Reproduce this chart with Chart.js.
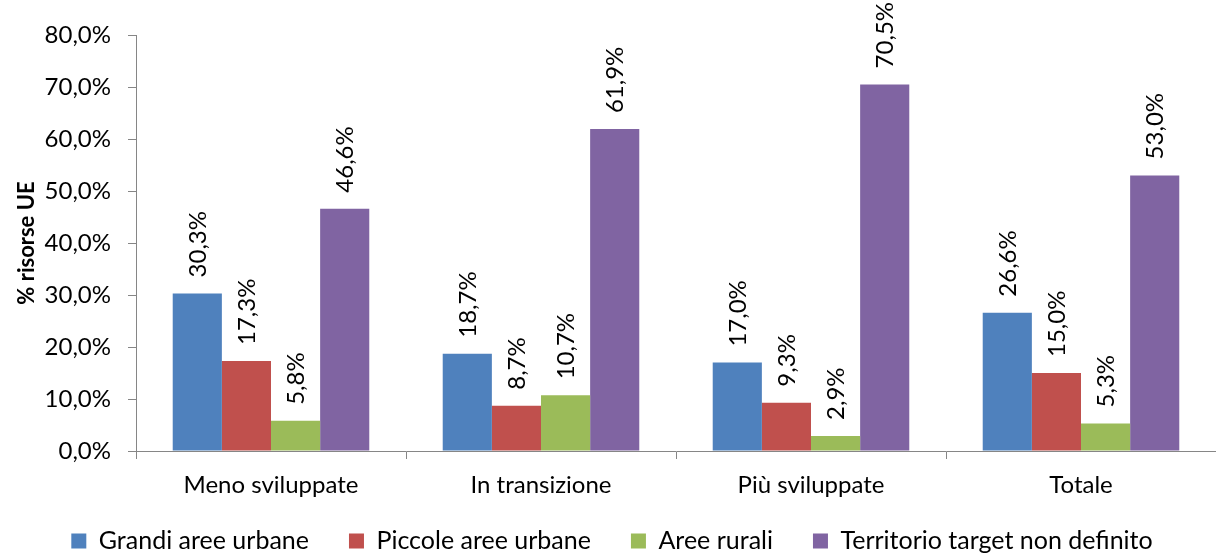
<!DOCTYPE html>
<html>
<head>
<meta charset="utf-8">
<script src="https://cdn.jsdelivr.net/npm/chart.js@4/dist/chart.umd.min.js"></script>
<style>
  html, body { margin: 0; padding: 0; background: #ffffff; }
  #c { display: block; }
</style>
</head>
<body>
<canvas id="c" width="1216" height="553"></canvas>
<script>
// Categorie di regioni
const categories = ['Meno sviluppate', 'In transizione', 'Più sviluppate', 'Totale'];

// Quote percentuali delle risorse UE per tipo di territorio
const grandiAreeUrbane = [30.3, 18.7, 17.0, 26.6];
const piccoleAreeUrbane = [17.3, 8.7, 9.3, 15.0];
const areeRurali = [5.8, 10.7, 2.9, 5.3];
const territorioNonDefinito = [46.6, 61.9, 70.5, 53.0];

const seriesNames = ['Grandi aree urbane', 'Piccole aree urbane', 'Aree rurali', 'Territorio target non definito'];
const seriesColors = ['#4F81BD', '#C0504D', '#9BBB59', '#8064A2'];
const seriesValues = [grandiAreeUrbane, piccoleAreeUrbane, areeRurali, territorioNonDefinito];

const FONT = 'Lato';
const fmtPct = v => v.toFixed(1).replace('.', ',') + '%';

// Etichette verticali con il valore sopra ogni barra
const valueLabels = {
  id: 'valueLabels',
  afterDatasetsDraw(chart) {
    const ctx = chart.ctx;
    ctx.save();
    ctx.fillStyle = '#000000';
    ctx.font = '24px ' + FONT;
    chart.data.datasets.forEach((ds, i) => {
      chart.getDatasetMeta(i).data.forEach((bar, j) => {
        ctx.save();
        ctx.translate(bar.x + 1, bar.y - 16);
        ctx.rotate(-Math.PI / 2);
        ctx.textAlign = 'left';
        ctx.textBaseline = 'middle';
        ctx.fillText(fmtPct(ds.data[j]), 0, 0);
        ctx.restore();
      });
    });
    ctx.restore();
  }
};

// La legenda resta vicina all'asse delle categorie
const legendPlacement = {
  id: 'legendPlacement',
  afterLayout(chart) {
    const lg = chart.legend;
    if (!lg) return;
    const itemCenter = 541;
    const pad = lg.options.labels.padding;
    const size = lg.options.labels.font.size;
    const top = itemCenter - pad - size / 2;
    lg.top = top;
    lg.bottom = chart.height;
  }
};

function draw() {
  new Chart(document.getElementById('c'), {
    type: 'bar',
    data: {
      labels: categories,
      datasets: seriesNames.map((name, i) => ({
        label: name,
        data: seriesValues[i],
        backgroundColor: seriesColors[i],
        borderWidth: 0,
        categoryPercentage: 0.728,
        barPercentage: 1.0
      }))
    },
    options: {
      responsive: false,
      animation: false,
      layout: { padding: { top: 35, right: -8, bottom: 0, left: 0 } },
      plugins: {
        tooltip: { enabled: false },
        legend: {
          position: 'bottom',
          maxHeight: 52,
          labels: {
            color: '#000000',
            font: { family: FONT, size: 25 },
            boxWidth: 15,
            boxHeight: 15,
            padding: 40
          }
        }
      },
      scales: {
        x: {
          offset: true,
          grid: {
            offset: true,
            drawOnChartArea: false,
            drawTicks: true,
            tickLength: 8,
            color: '#868686'
          },
          border: { color: '#868686', width: 1 },
          ticks: {
            color: '#000000',
            font: { family: FONT, size: 24 },
            padding: 12,
            maxRotation: 0
          },
          afterFit(scale) { scale.height = 50; }
        },
        y: {
          min: 0,
          max: 80,
          ticks: {
            stepSize: 10,
            color: '#000000',
            font: { family: FONT, size: 24 },
            padding: 17,
            callback: v => fmtPct(v)
          },
          grid: {
            drawOnChartArea: false,
            drawTicks: true,
            tickLength: 8,
            color: '#868686'
          },
          border: { color: '#868686', width: 1 },
          title: {
            display: true,
            text: '% risorse UE',
            color: '#000000',
            font: { family: FONT, size: 22, weight: 'bold' },
            padding: { top: 14, bottom: 0 }
          },
          afterFit(scale) { scale.width = 136; }
        }
      }
    },
    plugins: [valueLabels, legendPlacement]
  });
}

Promise.all([
  document.fonts.load('24px Lato'),
  document.fonts.load('bold 22px Lato')
]).then(draw, draw);
</script>
</body>
</html>
